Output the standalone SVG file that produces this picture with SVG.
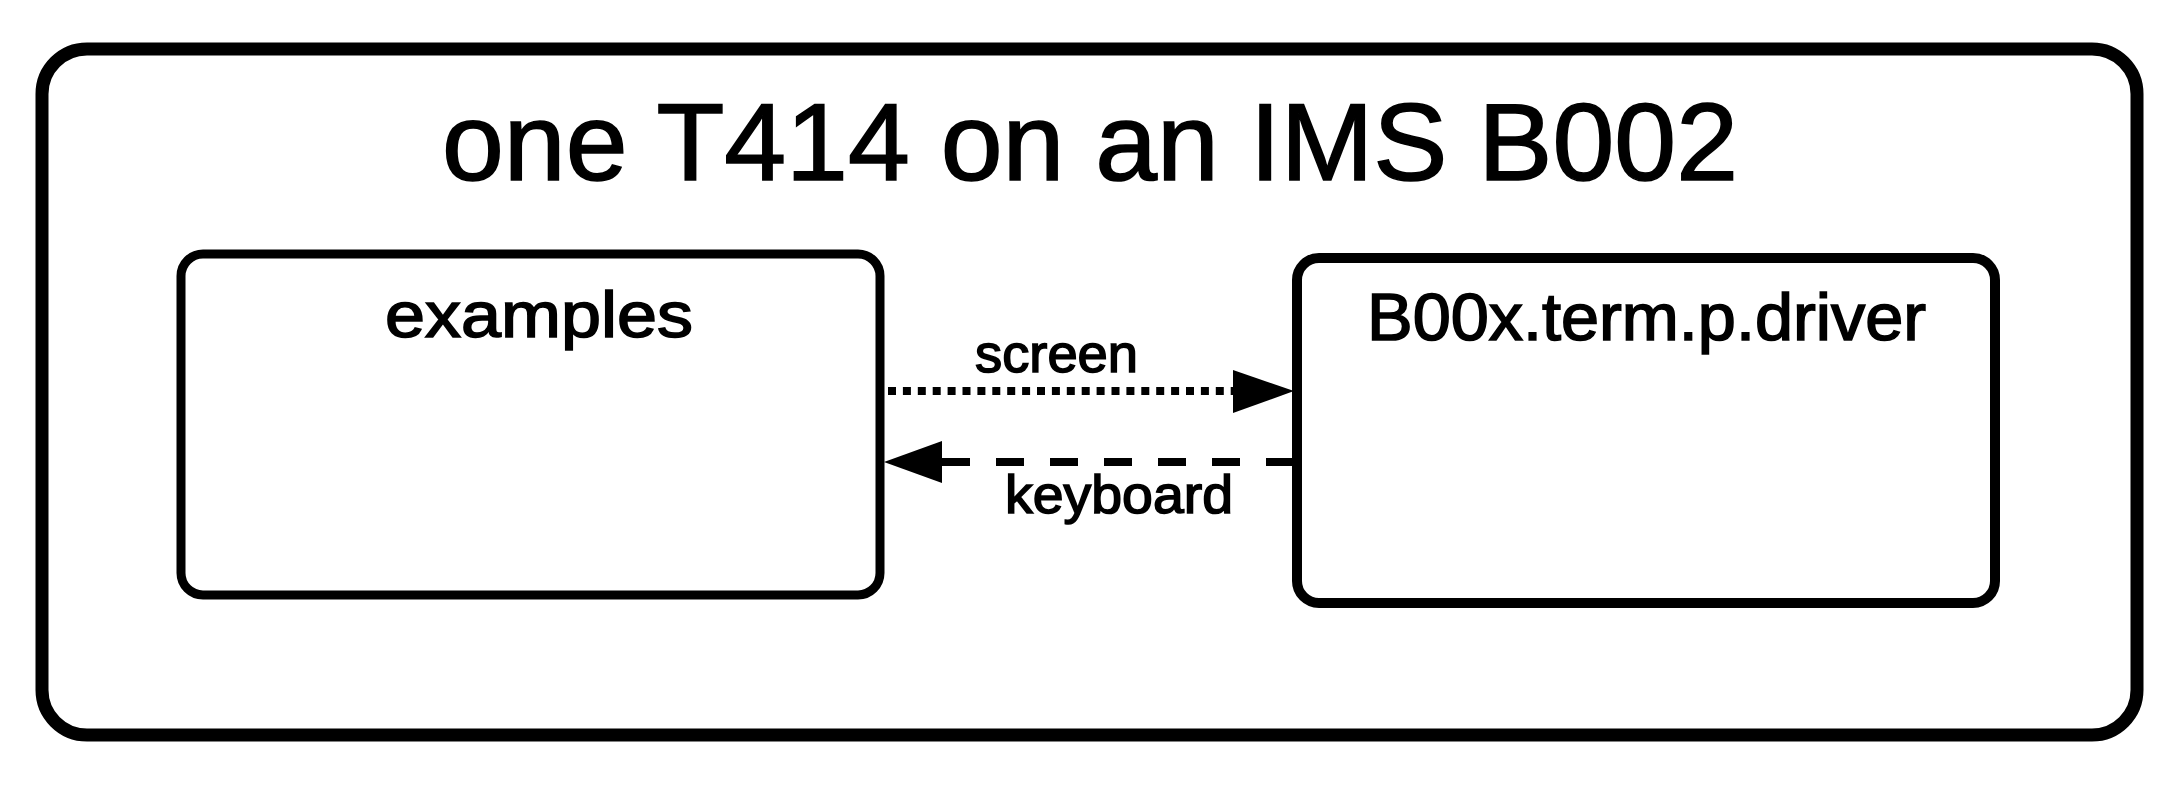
<svg xmlns="http://www.w3.org/2000/svg" width="2180" height="787" viewBox="0 0 2180 787">
<style>
.box{fill:none;stroke:#000;stroke-linejoin:round}
.t{font-family:"Liberation Sans",Arial,Helvetica,sans-serif;fill:#000;stroke:#000;stroke-width:1.6}
.conn{fill:none;stroke:#000;stroke-width:8}
</style>
<rect width="2180" height="787" fill="#fff"/>
<g id="board">
<rect class="box" x="42" y="49" width="2095" height="686" rx="45" stroke-width="13"/>
<text class="t" x="442" y="180" font-size="110" textLength="1296" lengthAdjust="spacingAndGlyphs">one T414 on an IMS B002</text>
</g>
<g id="examples">
<rect class="box" x="181" y="254" width="699" height="341" rx="22" stroke-width="9"/>
<text class="t" x="385" y="337" font-size="64" textLength="308" lengthAdjust="spacingAndGlyphs">examples</text>
</g>
<g id="driver">
<rect class="box" x="1297" y="258" width="698" height="345" rx="22" stroke-width="10"/>
<text class="t" x="1367" y="340" font-size="66" textLength="559" lengthAdjust="spacingAndGlyphs">B00x.term.p.driver</text>
</g>
<g id="connectors">
<path class="conn" d="M888 391 H1236" stroke-dasharray="8 6.9"/>
<polygon points="1233,370 1294,391 1233,413" fill="#000"/>
<text class="t" x="975" y="372" font-size="54" textLength="163" lengthAdjust="spacingAndGlyphs">screen</text>
<path class="conn" d="M942 462 H1294" stroke-dasharray="28 26"/>
<polygon points="884,462 942,441 942,483" fill="#000"/>
<text class="t" x="1005" y="513" font-size="54" textLength="228" lengthAdjust="spacingAndGlyphs">keyboard</text>
</g>
</svg>
